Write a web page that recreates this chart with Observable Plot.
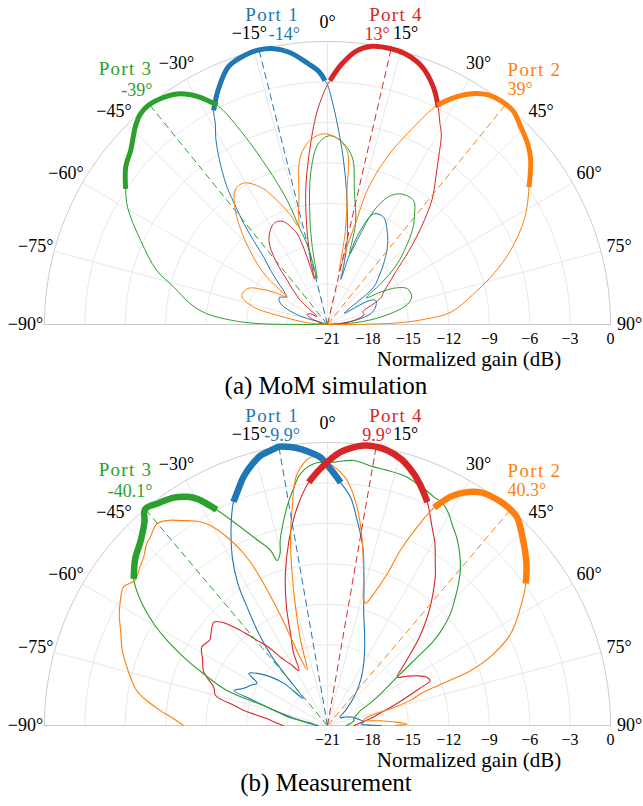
<!DOCTYPE html>
<html><head><meta charset="utf-8">
<script src="https://cdn.jsdelivr.net/npm/d3@7"></script>
<script src="https://cdn.jsdelivr.net/npm/@observablehq/plot@0.6"></script>
<style>
body{margin:0;background:#fff;}
#wrap{position:relative;width:643px;height:806px;font-family:"Liberation Serif","DejaVu Serif",serif;overflow:hidden;}
.panel{position:absolute;left:0;}
.cap{position:absolute;left:0;width:652px;text-align:center;font-size:25px;line-height:28px;color:#000;}
</style></head><body><div id="wrap"></div>
<script>
// ---------- data ----------
const portNames = ["Port 1", "Port 4", "Port 3", "Port 2"];
const portColors = ["#1f77b4", "#d62728", "#2ca02c", "#ff7f0e"];
const angleTicks = [-90, -75, -60, -45, -30, -15, 0, 15, 30, 45, 60, 75, 90];
const gainTicks = [-21, -18, -15, -12, -9, -6, -3, 0];
const captions = ["(a) MoM simulation", "(b) Measurement"];
const axisTitle = "Normalized gain (dB)";

// (a) MoM simulation
const simPeaks = [-14, 13, -39, 39];
const sim1A = [-90,-86,-82,-78,-72,-66,-61,-56,-53,-50,-46.5,-43.4,-41.5,-39.7,-38,-36.2,-34.5,-33,-31,-29.2,-28,-25,-21,-17,-14,-11.5,-8,-4.2,-2,-0.6,0,1,2.8,5.3,8.1,11.2,13.2,15.5,16.5,17.5,19.3,22.7,27.4,33.3,38,42.9,47,51.1,53,56,60,63.4,70,76,81,86,90];
const sim1G = [-21,-20.3,-20.5,-21,-18.6,-17.2,-16.9,-17.3,-17.0,-16.3,-15.2,-14.1,-12.8,-11.3,-10,-8.4,-7.2,-6.2,-4.9,-3.95,-3.0,-1.8,-0.5,-0.1,0,-0.1,-0.6,-1.6,-2.2,-2.9,-3.2,-4.2,-6.1,-8.5,-11.0,-13.4,-14.6,-16.5,-17.5,-15.5,-13.6,-12.1,-12.0,-12.9,-13.8,-14.9,-15.8,-16.6,-18.3,-19.5,-17.5,-17.0,-17.2,-17.7,-18.8,-20.2,-21];
const sim4A = [-90,-85,-78,-70,-64,-58,-53,-48.4,-45,-42.5,-39.1,-34.9,-29.2,-26,-23.1,-20.5,-18.5,-17,-16,-15,-13.6,-11.8,-9.2,-6.4,-3.3,-1.5,0,0.6,3,6,9,13,16,20,24,27,29.2,31,33.6,36.5,39.9,44,48,52,55.6,60,63,66,70,75,80,85,90];
const sim4G = [-21,-20.5,-20.5,-19.8,-19.3,-19.5,-20,-18.3,-17.4,-16.6,-14.9,-13.4,-12.6,-12.5,-12.7,-13.3,-13.9,-15.5,-17.5,-16.3,-15.1,-13.4,-10.9,-8.5,-5.6,-4.2,-3.2,-2.9,-1.7,-0.6,-0.1,0,-0.1,-0.6,-1.7,-2.9,-3.9,-4.6,-6.1,-7.5,-8.9,-11.0,-12.9,-14.5,-15.4,-16.2,-16.5,-17.3,-18.2,-18.2,-18.8,-19.8,-21];
const sim3A = [-90,-89.3,-87.6,-84.9,-81.4,-76.4,-72.4,-65.8,-59.6,-56.1,-52,-48.5,-44,-41.6,-39,-36,-32.5,-29.5,-26.7,-24.2,-21,-18,-16,-14,-12.8,-11,-9.3,-6.4,-3,0.4,4,8.4,11.4,15.5,17.5,19.7,22.1,25.5,29.2,34.8,38,42,48.9,52.5,55.5,58.6,62,65.9,71.1,74,77.2,82,86,90];
const sim3G = [-21,-16,-14.0,-12.0,-10.7,-9.3,-7.7,-5.8,-3.8,-2.95,-2.0,-1.5,-0.5,-0.1,0,-0.2,-0.7,-1.6,-2.8,-5.2,-8.5,-11.3,-13.7,-15.0,-17.5,-15,-12.9,-9.75,-7.6,-7.0,-7.3,-8.45,-10.9,-13.2,-15.5,-14.1,-11.9,-10.5,-9.9,-9.8,-10.5,-11.6,-14.1,-16.0,-17.5,-16.4,-15.2,-14.5,-14.4,-14.6,-15.2,-17.0,-18.8,-21];
const sim2A = [-90,-85,-80,-76.8,-72.2,-68.9,-65,-62,-58.5,-56,-54.5,-52,-49.2,-46,-43.3,-38.9,-34.5,-30.6,-26,-23.5,-21.3,-18.5,-16.5,-14.5,-13,-9.2,-5,-1.1,2.5,6.4,8.3,10.8,12.5,14,15.5,16.5,19.6,23.6,26.6,29.5,32.4,35,37.7,41,44.4,48,51,55.7,59,62.1,68,73,78.1,84.3,86.7,88.5,89.5,90];
const sim2G = [-21,-19.5,-17.5,-15.4,-14.35,-14.3,-14.6,-15.4,-16.5,-17.4,-16.9,-15.3,-14.1,-12.9,-11.8,-10.1,-8.9,-8.8,-9.66,-10.5,-11.4,-12.5,-13.4,-12.4,-11.6,-8.4,-7.2,-6.85,-7.1,-8.0,-10.95,-13.9,-17,-15,-13.25,-10.6,-7.8,-5.0,-2.8,-1.6,-0.7,-0.2,0,0,-0.5,-1.0,-1.6,-2.9,-3.7,-4.5,-6.35,-8.1,-9.9,-11.8,-13.6,-15.5,-18,-21];

// (b) Measurement
const measPeaks = [-9.9, 9.9, -40.1, 40.3];
const meas1A = [-90,-85,-80,-76,-73,-71,-69.5,-66,-62,-59,-56.5,-53,-50,-46,-42,-39.8,-39,-36.8,-34.2,-32.3,-29.5,-25.5,-22.8,-20.5,-18.6,-16,-13.9,-11,-9.9,-7.6,-5.5,-3.6,-1.5,0,1.5,3.1,5.75,8.2,11.2,14.1,18,21.5,25.5,29.5,33.9,38,42.9,50,57,65,72,78,84,87,90];
const meas1G = [-20.3,-19.8,-19,-17.8,-16.3,-15,-13.6,-14.2,-14.6,-14.9,-14.0,-14.6,-15.3,-16.5,-18.3,-16.3,-14.5,-12.5,-10.4,-8.56,-6.65,-4.4,-3.0,-2.2,-1.5,-0.8,-0.36,-0.1,0,-0.15,-0.4,-0.7,-1.1,-1.7,-2.3,-2.95,-3.97,-5.6,-7.5,-9.9,-12.3,-13.5,-14.6,-15.5,-16.4,-17.2,-18.1,-19.2,-19.9,-19.5,-19.0,-18.7,-18.3,-18.5,-17];
const meas4A = [-90,-86,-83.6,-80,-78,-75,-71.4,-68,-66,-62,-58,-54,-51,-47.7,-45.5,-43.6,-41.5,-39.6,-37,-34.5,-31,-27.5,-25,-22,-19.1,-15.5,-11.8,-7.9,-4.4,-1.6,2.7,7.4,9.9,12.2,15.5,18.9,21.5,24.1,27.8,30.5,33.2,36,38.7,41.5,44.4,47,49.2,52,55.2,58,61,64.1,66.4,68.2,70,73,76,80,85,90];
const meas4G = [-17.7,-17.0,-16.5,-14.8,-14.0,-12.4,-12.1,-11.3,-10.9,-10.5,-10.0,-10.2,-9.9,-9.6,-10.1,-10.9,-11.9,-12.8,-13.7,-14.85,-15.7,-16.4,-15.0,-13.7,-11.7,-9.3,-7.0,-4.65,-2.9,-1.94,-0.7,-0.05,0,-0.1,-0.5,-1.25,-2.0,-2.85,-4.36,-5.3,-6.4,-7.4,-8.5,-9.6,-10.8,-11.9,-12.9,-13.9,-14.7,-14.1,-13.4,-12.8,-12.7,-13.7,-14.6,-15.8,-16.8,-17.6,-18.5,-19];
const meas3A = [-90,-87,-83.5,-78,-76,-73,-70.8,-67.3,-64.6,-62,-59.7,-56.2,-52.9,-49,-45.3,-42,-40.1,-37,-34,-31.5,-29.9,-27.2,-24.7,-21.4,-18,-17,-15.5,-14.3,-12.5,-10.5,-8.3,-6.1,-3,1.4,5.7,9.9,13,17.8,20.5,23,25,27.3,29.8,32,35,40,43.3,45.5,47.8,50,51.5,52.5,54.7,58,62,65.6,70,75,80,85,90];
const meas3G = [-20.3,-20,-19.9,-18,-17.5,-16.3,-13.1,-11.0,-9.2,-7.5,-6.1,-4.3,-2.97,-2.1,-1.5,-0.7,0,-0.3,-0.6,-1.1,-1.6,-3.0,-4.4,-6.0,-7.35,-8.2,-7.8,-6.8,-5.7,-4.5,-3.3,-2.2,-1.55,-1.45,-1.24,-1.5,-1.55,-1.65,-1.9,-2.1,-2.3,-2.4,-2.9,-3.5,-4.2,-5.65,-6.9,-7.8,-8.7,-9.9,-11.0,-12.3,-14.4,-16.0,-17.3,-18.3,-18.7,-19,-19,-19.3,-19.6];
const meas2A = [-90,-87,-84.9,-82,-79.6,-76.5,-73.8,-70,-65.3,-62,-58.9,-55.8,-53,-50,-47.5,-45,-43.2,-40.2,-37.5,-35.6,-33,-30.8,-28,-26,-25,-24,-23,-22,-20,-17.6,-15.1,-13.1,-11.3,-9.2,-6.9,-3.6,-1.5,1.5,3,4.6,7.7,10.6,14,16,17.3,19.4,21.5,22.6,24.3,26.1,28.8,33.3,37.9,40.3,42.3,47.2,51,54.4,58.5,63.4,66.7,69,70,71.2,73,75,78,82,85,88,89,90];
const meas2G = [-10.3,-9.4,-8.55,-7.4,-6.6,-6.0,-5.5,-4.8,-4.1,-3.5,-3.05,-2.7,-3.1,-2.8,-2.5,-2.0,-1.8,-1.4,-1.8,-2.3,-2.9,-3.6,-5.2,-6.8,-8.0,-10.0,-12.5,-15.5,-16.6,-14.4,-11.9,-9.4,-7.0,-4.6,-2.2,-1.05,-1.2,-1.8,-2.2,-2.76,-4.65,-7.0,-9.9,-11.3,-11.5,-10.6,-8.9,-6.9,-4.85,-3.0,-1.5,-0.3,0,0,-0.1,-1.15,-2.0,-2.9,-4.2,-5.8,-7.6,-9.6,-12.1,-13.7,-14.5,-16.0,-17.9,-18.3,-17,-15.5,-15.1,-16];

// ---------- layout helpers ----------
const serif = "Liberation Serif, DejaVu Serif, serif";
const gMin = -21, gMax = 0;
const rad = g => (Math.max(g, gMin) - gMin) / (gMax - gMin);
const toX = (t, g) => rad(g) * Math.sin(t * Math.PI / 180);
const toY = (t, g) => rad(g) * Math.cos(t * Math.PI / 180);
const labelR = 1 + 19 / 283;
const minus = v => (v < 0 ? "\u2212" : "") + Math.abs(v);

// port label placement (anchored on the outer circle at a nominal beam angle)
const portLabelLayout = [
  {angle: -14, name: {dx: 40, dy: -35, a: "end"},   val: {dx: 41, dy: -16, a: "end"}},
  {angle: 13,  name: {dx: -22, dy: -34, a: "start"}, val: {dx: -14, dy: -15, a: "middle"}},
  {angle: -39, name: {dx: 3, dy: -36, a: "end"},     val: {dx: 3, dy: -14, a: "end"}},
  {angle: 39,  name: {dx: 2, dy: -35, a: "start"},   val: {dx: 2, dy: -15, a: "start"}}
];

function makePanel(angles, gains, peaks, thin, thick) {
  const rows = portNames.flatMap((p, i) => angles[i].map((t, j) => ({port: p, t, g: gains[i][j]})));
  const thickRows = portNames.flatMap((p, i) => {
    const G = gains[i];
    let k = G.indexOf(d3.max(G));
    let lo = k, hi = k;
    while (lo > 0 && G[lo - 1] >= -3.05) lo--;
    while (hi < G.length - 1 && G[hi + 1] >= -3.05) hi++;
    return d3.range(lo, hi + 1).map(j => ({port: p, t: angles[i][j], g: G[j]}));
  });
  const peakRows = portNames.map((p, i) => ({port: p, t: peaks[i]}));
  const circleRows = gainTicks.filter(g => g > gMin && g < gMax)
    .flatMap(g => d3.range(-90, 90.01, 1).map(t => ({g, t})));
  const outerRows = d3.range(-90, 90.01, 0.5).map(t => ({g: gMax, t}));

  const marks = [
    Plot.line(circleRows, {x: d => toX(d.t, d.g), y: d => toY(d.t, d.g), z: "g", stroke: "#e2e2e2", strokeWidth: 0.8}),
    Plot.link(angleTicks, {x1: 0, y1: 0, x2: t => toX(t, gMax), y2: t => toY(t, gMax), stroke: "#e2e2e2", strokeWidth: 0.8}),
    Plot.line(outerRows, {x: d => toX(d.t, d.g), y: d => toY(d.t, d.g), stroke: "#c4c4c4", strokeWidth: 0.9}),
    Plot.link([0], {x1: -1, y1: 0, x2: 1, y2: 0, stroke: "#c4c4c4", strokeWidth: 0.9}),
    Plot.line(rows, {x: d => toX(d.t, d.g), y: d => toY(d.t, d.g), z: "port", stroke: "port", strokeWidth: thin, curve: "catmull-rom"}),
    Plot.link(peakRows, {x1: 0, y1: 0, x2: d => toX(d.t, gMax), y2: d => toY(d.t, gMax), stroke: "port", strokeWidth: 1, strokeDasharray: "7,4"}),
    Plot.line(thickRows, {x: d => toX(d.t, d.g), y: d => toY(d.t, d.g), z: "port", stroke: "port", strokeWidth: thick, curve: "catmull-rom", strokeLinecap: "butt"}),
    Plot.text(angleTicks, {x: t => labelR * Math.sin(t * Math.PI / 180), y: t => labelR * Math.cos(t * Math.PI / 180),
      text: t => minus(t) + "\u00b0", fontSize: 18, fill: "#000"}),
    Plot.text(gainTicks, {x: g => rad(g), y: 0, dy: 14, text: g => minus(g), fontSize: 16, fill: "#000"}),
    Plot.text([axisTitle], {x: 0.5, y: 0, dy: 35, text: d => d, fontSize: 21, fill: "#000"})
  ];
  portLabelLayout.forEach((L, i) => {
    const x = Math.sin(L.angle * Math.PI / 180), y = Math.cos(L.angle * Math.PI / 180);
    marks.push(Plot.text([{port: portNames[i]}], {x: () => x, y: () => y, text: "port", fill: "port", dx: L.name.dx, dy: L.name.dy,
      textAnchor: L.name.a, fontSize: 19}));
    marks.push(Plot.text([{port: portNames[i], v: peaks[i]}], {x: () => x, y: () => y, text: d => d.v + "\u00b0", fill: "port", dx: L.val.dx, dy: L.val.dy,
      textAnchor: L.val.a, fontSize: 18}));
  });

  const svg = Plot.plot({
    width: 643, height: 370,
    marginLeft: 44, marginRight: 33, marginTop: 41, marginBottom: 46,
    x: {domain: [-1, 1], axis: null},
    y: {domain: [0, 1], axis: null},
    color: {domain: portNames, range: portColors},
    style: {background: "transparent", overflow: "visible"},
    marks
  });
  svg.removeAttribute("font-family");
  svg.querySelectorAll("g, text").forEach(el => { el.removeAttribute("font-family"); });
  svg.querySelectorAll("text").forEach(el => {
    el.style.fontFamily = serif;
    if (portNames.includes(el.textContent)) el.style.letterSpacing = "1.3px";
  });
  svg.style.fontFamily = serif;
  return svg;
}

const wrap = document.getElementById("wrap");
const panels = [
  makePanel([sim1A, sim4A, sim3A, sim2A], [sim1G, sim4G, sim3G, sim2G], simPeaks, 1, 5),
  makePanel([meas1A, meas4A, meas3A, meas2A], [meas1G, meas4G, meas3G, meas2G], measPeaks, 1.1, 6.5)
];
const tops = [0, 401];
const capTops = [372, 769];
panels.forEach((svg, i) => {
  const div = document.createElement("div");
  div.className = "panel";
  div.style.top = tops[i] + "px";
  div.appendChild(svg);
  wrap.appendChild(div);
  const cap = document.createElement("div");
  cap.className = "cap";
  cap.style.top = capTops[i] + "px";
  cap.textContent = captions[i];
  wrap.appendChild(cap);
});
</script></body></html>
